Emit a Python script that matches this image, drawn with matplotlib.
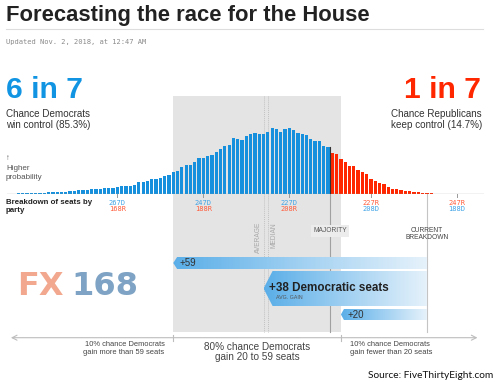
"""FiveThirtyEight House forecast, Nov 2018 (recreated)."""

import numpy as np
import matplotlib
matplotlib.use("Agg")
import matplotlib.pyplot as plt
from matplotlib.colors import LinearSegmentedColormap
from matplotlib.patches import Polygon, Rectangle

W, H = 500, 382
BLUE = "#1690dc"
RED = "#ff2700"
TICK_BLUE = "#3fa3e6"
TICK_RED = "#ff5b3a"
SANS = ["Liberation Sans", "DejaVu Sans"]
MONO = "DejaVu Sans Mono"

# probability (%) of each Democratic seat total
seats = np.arange(192, 293)
prob = [
    0.02, 0.02, 0.03, 0.04, 0.05, 0.07, 0.10, 0.11, 0.12, 0.15,   # 192-201
    0.20, 0.22, 0.30, 0.42, 0.44, 0.54, 0.63, 0.82, 0.93, 1.00,   # 202-211
    1.15, 1.17, 1.33, 1.46, 1.66, 1.71,                           # 212-217
    1.94, 2.00, 2.21, 2.19, 2.29, 2.44, 2.48, 2.54, 2.64, 2.73,   # 218-227
    2.69, 2.59, 2.69, 2.75, 2.57, 2.50, 2.48, 2.54, 2.48, 2.41,   # 228-237
    2.24, 2.27, 2.31, 2.02, 2.00, 1.87, 1.73, 1.63, 1.59, 1.48,   # 238-247
    1.51, 1.34, 1.19, 1.19, 1.11, 0.95, 0.90,                     # 248-254
    0.79, 0.75, 0.66, 0.64, 0.62, 0.52, 0.50, 0.48, 0.37, 0.35,   # 255-264
    0.33, 0.33, 0.29, 0.25, 0.25, 0.23, 0.21, 0.21, 0.19, 0.17,   # 265-274
    0.17, 0.15, 0.12, 0.12, 0.10, 0.10, 0.08, 0.08, 0.08, 0.06,   # 275-284
    0.06, 0.05, 0.04, 0.04, 0.03, 0.03, 0.02, 0.02,               # 285-292
]
MAJORITY = 218
CURRENT = 195
AVG_GAIN = 38
MEDIAN_GAIN = 37
LOW_GAIN, HIGH_GAIN = 20, 59

tick_seats = [267, 247, 227, 208, 188]
tick_top = ["267D", "247D", "227D", "227R", "247R"]
tick_bot = ["168R", "188R", "208R", "208D", "188D"]

XLIM = (294.3, 178.0)


def ftext(x, y, s, **kw):
    kw.setdefault("family", SANS)
    return fig.text(x / W, 1 - y / H, s, **kw)


def seat_color(label):
    return TICK_BLUE if label.endswith("D") else TICK_RED


def gradient_arrow(ax, tip, ytop, ybot, depth):
    ymid = (ytop + ybot) / 2
    verts = [(tip, ymid), (tip - depth, ytop), (CURRENT, ytop),
             (CURRENT, ybot), (tip - depth, ybot)]
    poly = Polygon(verts, closed=True, facecolor="none", edgecolor="none")
    ax.add_patch(poly)
    cmap = LinearSegmentedColormap.from_list("fade", ["#5aaee8", "#e6f2fb"])
    im = ax.imshow(np.linspace(0, 1, 256).reshape(1, -1), cmap=cmap,
                   extent=(tip, CURRENT, ybot, ytop), aspect="auto", zorder=2)
    im.set_clip_path(poly)


fig = plt.figure(figsize=(W / 100, H / 100), dpi=100)
ov = fig.add_axes([0, 0, 1, 1])
ov.axis("off")
ax = fig.add_axes([0, 1 - 194 / H, 1, 98 / H])
ax.patch.set_visible(False)
ax.axis("off")

# 80% band
ov.add_patch(Rectangle((CURRENT + LOW_GAIN, 96), HIGH_GAIN - LOW_GAIN, 236,
                       facecolor="#e4e4e4", edgecolor="none", zorder=0))

avg = CURRENT + AVG_GAIN
med = CURRENT + MEDIAN_GAIN
for xv in (avg, med):
    ov.plot([xv, xv], [96, 332], color="#c2c2c2", lw=0.7, ls=(0, (1, 1)), zorder=1)
ov.plot([MAJORITY - 0.5] * 2, [194, 332], color="#a0a0a0", lw=0.8, zorder=1)
ov.plot([CURRENT] * 2, [194, 332], color="#c4c4c4", lw=0.8, zorder=1)

ov.text(avg + 0.35, 222, "AVERAGE", rotation=90, ha="right", va="top",
        fontsize=4.8, color="#a8a8a8", family=SANS)
ov.text(med - 0.55, 222, "MEDIAN", rotation=90, ha="left", va="top",
        fontsize=4.8, color="#a8a8a8", family=SANS)
ov.text(MAJORITY - 0.5, 230.7, "MAJORITY", ha="center", va="center",
        fontsize=4.8, color="#555555", family=SANS,
        bbox=dict(boxstyle="square,pad=0.35", facecolor="#ececec", edgecolor="none"))
ov.text(CURRENT, 230.7, "CURRENT", ha="center", va="center",
        fontsize=4.8, color="#444444", family=SANS)
ov.text(CURRENT, 237.9, "BREAKDOWN", ha="center", va="center",
        fontsize=4.8, color="#444444", family=SANS)

# histogram
colors = [BLUE if s >= MAJORITY else RED for s in seats]
ax.bar(seats, prob, width=0.76, color=colors, linewidth=0, zorder=2)
ax.axhline(0, xmin=0.014, xmax=0.966, color="#9a9a9a", lw=0.9, zorder=3)
maj_h = prob[list(seats).index(MAJORITY)]
ax.plot([MAJORITY - 0.5] * 2, [0, maj_h], color="#333333", lw=0.8, zorder=3)
ax.set_xlim(XLIM)
ax.set_ylim(0, 4.07)

for t, top, bot in zip(tick_seats, tick_top, tick_bot):
    ov.plot([t, t], [194, 197], color="#999999", lw=0.7)
    ov.text(t, 202.7, top, ha="center", va="center", fontsize=5,
            family=MONO, color=seat_color(top))
    ov.text(t, 209.4, bot, ha="center", va="center", fontsize=5,
            family=MONO, color=seat_color(bot))

# gain arrows
gradient_arrow(ov, CURRENT + HIGH_GAIN, 257, 269, 0.9)
gradient_arrow(ov, CURRENT + AVG_GAIN, 271, 306, 2.1)
gradient_arrow(ov, CURRENT + LOW_GAIN, 309, 320, 0.7)
ov.text(CURRENT + HIGH_GAIN - 1.5, 263, f"+{HIGH_GAIN}", ha="left", va="center",
        fontsize=7, color="#333333", family=SANS)
ov.text(CURRENT + AVG_GAIN - 1.3, 288.3, f"+{AVG_GAIN} Democratic seats",
        ha="left", va="center", fontsize=8.4, fontweight="bold",
        color="#222222", family=SANS)
ov.text(CURRENT + AVG_GAIN - 2.9, 297.8, "AVG. GAIN", ha="left", va="center",
        fontsize=3.8, color="#555555", family=SANS)
ov.text(CURRENT + LOW_GAIN - 1.5, 314.5, f"+{LOW_GAIN}", ha="left", va="center",
        fontsize=7, color="#333333", family=SANS)

# bottom range axis
ov.annotate("", xy=(292.4, 337.7), xytext=(182.6, 337.7),
            arrowprops=dict(arrowstyle="<->,head_length=0.35,head_width=0.18",
                            color="#bdbdbd", lw=0.8))
for edge in (CURRENT + HIGH_GAIN, CURRENT + LOW_GAIN):
    ov.plot([edge, edge], [334.5, 341], color="#bdbdbd", lw=0.8)

ov.set_xlim(XLIM)
ov.set_ylim(H, 0)

# header
ftext(6, 20.7, "Forecasting the race for the House", fontsize=15.8,
      fontweight="bold", color="#222222", va="baseline")
fig.add_artist(plt.Line2D([6 / W, 483 / W], [1 - 29.3 / H] * 2,
                          color="#dddddd", lw=0.8))
ftext(6, 41.7, "Updated Nov. 2, 2018, at 12:47 AM", fontsize=5.1,
      family=MONO, color="#8a8a8a", va="center")

ftext(6, 98, "6 in 7", fontsize=21.6, fontweight="bold", color="#1195e3",
      va="baseline")
ftext(481, 98, "1 in 7", fontsize=21.6, fontweight="bold", color=RED,
      va="baseline", ha="right")
ftext(6, 114, "Chance Democrats", fontsize=7.1, color="#333333", va="center")
ftext(6, 125.5, "win control (85.3%)", fontsize=7.1, color="#333333", va="center")
ftext(482, 114, "Chance Republicans", fontsize=7.1, color="#333333",
      va="center", ha="right")
ftext(482, 125.5, "keep control (14.7%)", fontsize=7.1, color="#333333",
      va="center", ha="right")

ftext(6, 158, "\u2191", fontsize=5.5, color="#555555", va="center")
ftext(6, 169, "Higher", fontsize=5.8, color="#555555", va="center")
ftext(6, 177.3, "probability", fontsize=5.8, color="#555555", va="center")
ftext(6, 202.3, "Breakdown of seats by", fontsize=5.7, fontweight="bold",
      color="#222222", va="center")
ftext(6, 210, "party", fontsize=5.7, fontweight="bold", color="#222222",
      va="center")

# watermark
ftext(17, 295, "FX", fontsize=23, fontweight="bold", color="#f2a88e",
      family="DejaVu Sans", va="baseline")
ftext(71, 295, "168", fontsize=23, fontweight="bold", color="#7ea3c4",
      family="DejaVu Sans", va="baseline")

# footer
ftext(164.5, 345, "10% chance Democrats", fontsize=5.4, color="#444444",
      ha="right", va="center")
ftext(164.5, 352.7, f"gain more than {HIGH_GAIN} seats", fontsize=5.4,
      color="#444444", ha="right", va="center")
ftext(257, 346.7, "80% chance Democrats", fontsize=7.2, color="#444444",
      ha="center", va="center")
ftext(257, 357.3, f"gain {LOW_GAIN} to {HIGH_GAIN} seats", fontsize=7.2,
      color="#444444", ha="center", va="center")
ftext(350, 345, "10% chance Democrats", fontsize=5.4, color="#444444",
      ha="left", va="center")
ftext(350, 352.7, f"gain fewer than {LOW_GAIN} seats", fontsize=5.4,
      color="#444444", ha="left", va="center")
ftext(493, 376, "Source: FiveThirtyEight.com", fontsize=7.3, color="#111111",
      family=["Lato", "DejaVu Sans"], ha="right", va="center")

fig.savefig("out.png", dpi=100)
plt.close(fig)
